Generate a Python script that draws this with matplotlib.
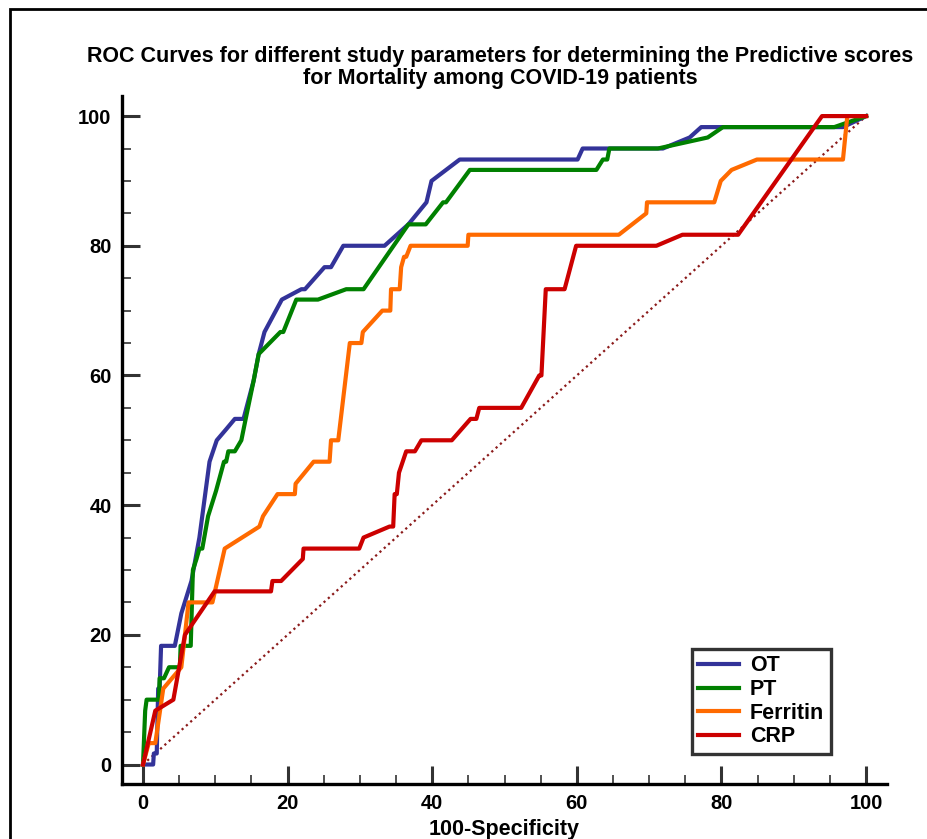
import numpy as np
import matplotlib
matplotlib.use("Agg")
from matplotlib import pyplot as plt
from matplotlib.patches import Rectangle
from matplotlib.ticker import MultipleLocator

plt.rcParams['font.family'] = ['Liberation Sans', 'DejaVu Sans']
plt.rcParams['font.weight'] = 'bold'

# ROC points (100-Specificity, Sensitivity)
ot_x = [0, 1.4, 1.5, 1.9, 2.1, 2.3, 2.5, 4.4, 5.3, 6.7, 7.8, 9.2, 10.2, 11.5, 12.7, 13.9, 15.3,
        16.0, 16.8, 19.2, 21.9, 22.4, 25.1, 26.0, 27.7, 33.4, 36.7, 39.2, 39.9, 43.8, 60.1,
        60.8, 71.9, 75.6, 77.2, 96.8, 100]
ot_y = [0, 0, 1.7, 1.7, 11.7, 11.7, 18.3, 18.3, 23.3, 28.3, 35.0, 46.7, 50.0, 51.7, 53.3, 53.3, 59.2,
        63.3, 66.7, 71.7, 73.3, 73.3, 76.7, 76.7, 80.0, 80.0, 83.3, 86.7, 90.0, 93.3, 93.3,
        95.0, 95.0, 96.7, 98.3, 98.3, 100]

pt_x = [0, 0.3, 0.5, 2.2, 2.3, 2.9, 3.6, 5.1, 5.2, 6.6, 6.9, 7.4, 7.8, 8.2, 9.0, 10.1, 11.2, 11.5,
        11.8, 12.7, 13.6, 14.2, 15.3, 16.0, 19.0, 19.4, 21.2, 24.2, 28.1, 30.5, 36.7, 39.1,
        41.5, 41.9, 45.2, 62.7, 63.6, 64.2, 64.5, 71.2, 78.1, 80.2, 95.6, 100]
pt_y = [0, 8.3, 10.0, 10.0, 13.3, 13.3, 15.0, 15.0, 18.3, 18.3, 30.0, 31.7, 33.3, 33.3, 38.3, 42.2,
        46.7, 46.7, 48.3, 48.3, 50.0, 53.3, 59.2, 63.3, 66.7, 66.7, 71.7, 71.7, 73.3, 73.3, 83.3,
        83.3, 86.7, 86.7, 91.7, 91.7, 93.3, 93.3, 95.0, 95.0, 96.7, 98.3, 98.3, 100]

fer_x = [0, 0.8, 1.7, 2.8, 5.3, 6.3, 9.6, 11.3, 16.1, 16.6, 18.6, 21.0, 21.1, 23.6, 25.8, 26.0,
         27.0, 28.6, 30.2, 30.4, 33.1, 34.2, 34.3, 35.5, 35.7, 36.1, 36.4, 37.0, 44.9, 45.0,
         65.8, 69.6, 69.7, 79.0, 79.9, 81.4, 84.9, 96.8, 97.4, 100]
fer_y = [0, 3.3, 3.3, 11.7, 15.0, 25.0, 25.0, 33.3, 36.7, 38.3, 41.7, 41.7, 43.3, 46.7, 46.7, 50.0,
         50.0, 65.0, 65.0, 66.7, 70.0, 70.0, 73.3, 73.3, 76.7, 78.3, 78.3, 80.0, 80.0, 81.7,
         81.7, 85.0, 86.7, 86.7, 90.0, 91.7, 93.3, 93.3, 100, 100]

crp_x = [0, 1.7, 4.2, 5.8, 9.9, 17.7, 17.9, 19.1, 22.1, 22.2, 29.9, 30.5, 34.1, 34.6, 34.8, 35.1,
         35.4, 36.4, 37.6, 38.5, 42.7, 45.3, 46.1, 46.5, 52.3, 54.8, 55.1, 55.7, 58.3, 59.9,
         71.0, 74.6, 82.3, 93.9, 100]
crp_y = [0, 8.3, 10.0, 20.0, 26.7, 26.7, 28.3, 28.3, 31.7, 33.3, 33.3, 35.0, 36.7, 36.7, 41.7, 41.7,
         45.0, 48.3, 48.3, 50.0, 50.0, 53.3, 53.3, 55.0, 55.0, 60.0, 60.0, 73.3, 73.3, 80.0,
         80.0, 81.7, 81.7, 100, 100]

fig = plt.figure(figsize=(9.28, 8.39), dpi=100)
ax = fig.add_axes([0.1315, 0.0656, 0.8244, 0.820])

ax.plot([0, 100], [0, 100], color="#8b1a1a", lw=1.6, ls=(0, (1, 1.6)))
ax.plot(ot_x, ot_y, color="#333399", lw=3, label="OT")
ax.plot(pt_x, pt_y, color="#008000", lw=3, label="PT")
ax.plot(fer_x, fer_y, color="#ff6a00", lw=3, label="Ferritin")
ax.plot(crp_x, crp_y, color="#cc0000", lw=3, label="CRP")

ax.set_xlim(-2.9, 102.9)
ax.set_ylim(-3.0, 103.1)
for s in ["top", "right"]:
    ax.spines[s].set_visible(False)
for s in ["left", "bottom"]:
    ax.spines[s].set_linewidth(2.4)
    ax.spines[s].set_color("black")

ax.xaxis.set_major_locator(MultipleLocator(20))
ax.xaxis.set_minor_locator(MultipleLocator(5))
ax.yaxis.set_major_locator(MultipleLocator(20))
ax.yaxis.set_minor_locator(MultipleLocator(5))
ax.tick_params(which="major", direction="in", length=13, width=2.2, color="#333333",
               labelsize=14.5, pad=7.5)
ax.tick_params(which="minor", direction="in", length=6.5, width=1.2, color="#333333")
for lab in ax.get_xticklabels() + ax.get_yticklabels():
    lab.set_fontweight("bold")

ax.set_xlabel("100-Specificity", fontsize=15.5, fontweight="bold", labelpad=4)

fig.text(0.539, 0.9195, "ROC Curves for different study parameters for determining the Predictive scores\n"
         "for Mortality among COVID-19 patients", ha="center", va="center",
         fontsize=15.5, fontweight="bold", linespacing=1.1)

leg = ax.legend(loc="upper left", bbox_to_anchor=(692 / 928, 1 - 649 / 839),
                bbox_transform=fig.transFigure, borderaxespad=0, fancybox=False,
                framealpha=1, edgecolor="#333333", prop={"weight": "bold", "size": 15.5},
                handlelength=1.9, handletextpad=0.5, labelspacing=0.12, borderpad=0.3)
leg.get_frame().set_linewidth(2.4)

# outer frame of the original picture (cropped at right and bottom)
fig.add_artist(Rectangle((10 / 928, -0.1), 1.2, 1.1 - 9 / 839, transform=fig.transFigure,
                         fill=False, lw=2, edgecolor="black", clip_on=False))

fig.savefig("out.png", dpi=100)
